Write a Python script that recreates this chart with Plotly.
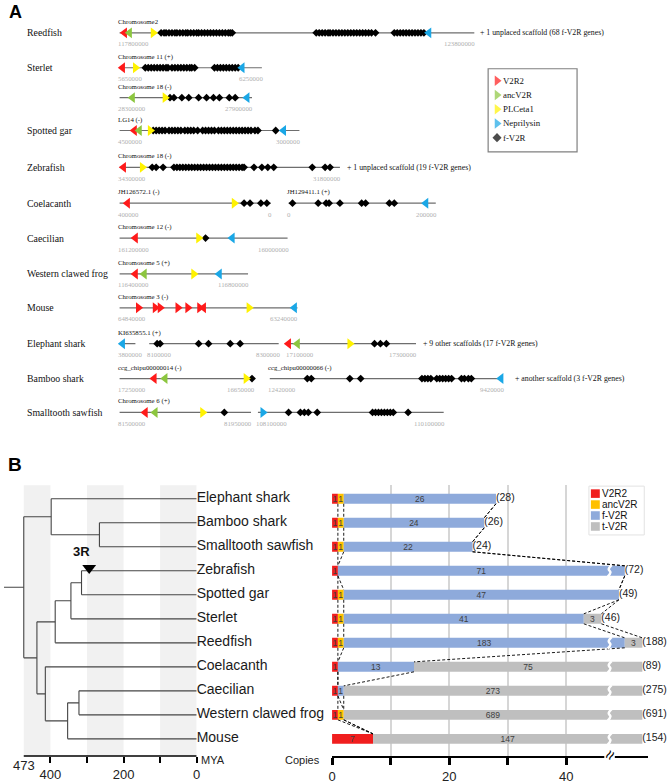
import plotly.graph_objects as go

W, H = 669, 784
SERIF = "Liberation Serif, Times New Roman, serif"
SANS = "Liberation Sans, Arial, sans-serif"

# ======================= PANEL A DATA =======================
a_species = ["Reedfish", "Sterlet", "Spotted gar", "Zebrafish", "Coelacanth", "Caecilian",
             "Western clawed frog", "Mouse", "Elephant shark", "Bamboo shark", "Smalltooth sawfish"]
a_species_track = [0, 1, 3, 4, 5, 6, 7, 8, 9, 10, 11]

# genomic segments (diagram units along each track)
seg_track = [0, 1, 2, 3, 4, 5, 5, 6, 7, 8, 9, 9, 9, 10, 10, 11, 11]
seg_start = [117, 117, 117, 117, 117, 117, 288, 117, 117, 117, 117, 147, 287, 117, 269, 117, 257]
seg_end = [476, 261, 251, 299, 340, 270, 437, 287, 247, 297, 133, 278, 417, 253, 505, 250, 445]
seg_title = ["Chromosome2", "Chromosome 11 (+)", "Chromosome 18 (-)", "LG14 (-)", "Chromosome 18 (-)",
             "JH126572.1 (-)", "JH129411.1 (+)", "Chromosome 12 (-)", "Chromosome 5 (+)",
             "Chromosome 3 (-)", "KI635855.1 (+)", "", "", "ccg_chipu00000014 (-)",
             "ccg_chipu00000066 (-)", "Chromosome 6 (+)", ""]
seg_left = ["117800000", "5650000", "28300000", "4500000", "34300000", "400000", "0", "161200000",
            "116400000", "64840000", "3800000", "8100000", "17100000", "17250000", "12420000",
            "81500000", "108100000"]
seg_right = ["123800000", "6250000", "27900000", "3000000", "31800000", "0", "200000", "160000000",
             "116800000", "63240000", "", "8300000", "17300000", "16650000", "9420000",
             "81950000", "110100000"]

note_track = [0, 4, 9, 10]
note_text = ["+ 1 unplaced scaffold (68 f-V2R genes)", "+ 1 unplaced scaffold (19 f-V2R genes)",
             "+ 9 other scaffolds (17 f-V2R genes)", "+ another scaffold (3 f-V2R genes)"]

# genes: (track, position, strand)
v2r2_loci = [(0, 122, "L"), (1, 120, "L"), (3, 132, "L"), (4, 121, "L"), (5, 125, "L"), (6, 133, "L"),
             (7, 133, "L"), (8, 136, "R"), (8, 153, "R"), (8, 158, "R"), (8, 176, "R"), (8, 186, "R"),
             (8, 198, "R"), (8, 202, "L"), (9, 288, "L"), (10, 152, "L"), (11, 143, "L")]
anc_loci = [(0, 127, "L"), (2, 130, "L"), (3, 137, "L"), (7, 142, "L"), (9, 297, "L"), (10, 163, "L"),
            (11, 153, "L")]
plc_loci = [(0, 151, "R"), (1, 133, "R"), (2, 163, "R"), (3, 148, "R"), (4, 140, "R"), (5, 233, "R"),
            (6, 197, "R"), (7, 192, "R"), (8, 248, "R"), (9, 350, "R"), (10, 245, "R"), (11, 201, "R")]
nep_loci = [(0, 430, "L"), (1, 241, "L"), (2, 246, "L"), (3, 283, "L"), (5, 427, "L"), (6, 231, "L"),
            (7, 218, "L"), (8, 294, "L"), (9, 120, "L"), (10, 503, "L"), (11, 262, "R")]
fv2r_loci = [
    (0, [159, 162, 164, 167, 170, 173, 175, 178, 181, 184, 186, 189, 192, 195, 197, 200, 203, 206, 209,
         212, 215, 218, 221, 224, 227, 229, 231, 316, 319, 322, 325, 328, 330, 333, 336, 339, 342, 345,
         348, 351, 354, 357, 360, 363, 366, 369, 372, 376, 395, 398, 401, 404, 407, 410, 413, 416, 419,
         422, 425]),
    (1, [143, 146, 149, 152, 155, 158, 161, 164, 166, 170, 173, 176, 179, 182, 185, 188, 190, 193, 213,
         216, 219, 222, 225, 228, 231, 234, 237]),
    (2, [168, 172, 180, 187, 197, 205, 212, 218, 228, 234]),
    (3, [151, 154, 157, 160, 163, 167, 170, 173, 176, 179, 183, 186, 189, 192, 196, 201, 204, 207, 210,
         213, 217, 220, 223, 226, 229, 232, 235, 238, 241, 244, 247, 250, 254, 257, 275]),
    (4, [150, 154, 161, 172, 175, 178, 181, 184, 187, 190, 193, 196, 199, 202, 205, 208, 211, 214, 217,
         220, 223, 226, 229, 232, 235, 238, 241, 243, 253, 261, 267, 273, 312, 325, 330]),
    (5, [243, 249, 260, 266, 292, 318, 326, 329, 340, 362, 366, 390, 395]),
    (6, [204]),
    (9, [155, 158, 197, 207, 229, 239, 375, 381, 387]),
    (10, [251, 307, 311, 350, 361, 423, 426, 429, 432, 438, 441, 444, 447, 450, 453, 463, 466, 470, 473]),
    (11, [223, 288, 300, 304, 308, 317, 373, 376, 379, 382, 385, 388, 391, 394, 409]),
]

gene_names = ["V2R2", "ancV2R", "PLCeta1", "Neprilysin", "f-V2R"]
gene_colors = ["#ff1a1a", "#8cc63f", "#fff200", "#1aa7e6", "#000000"]

# ======================= PANEL B DATA =======================
b_species = ["Elephant shark", "Bamboo shark", "Smalltooth sawfish", "Zebrafish", "Spotted gar", "Sterlet",
             "Reedfish", "Coelacanth", "Caecilian", "Western clawed frog", "Mouse"]
v2r2_copies = [1, 1, 1, 1, 1, 1, 1, 1, 1, 1, 7]
anc_copies = [1, 1, 1, 0, 1, 1, 1, 0, 0, 1, 0]
fv2r_copies = [26, 24, 22, 71, 47, 41, 183, 13, 1, 0, 0]
tv2r_copies = [0, 0, 0, 0, 0, 3, 3, 75, 273, 689, 147]
b_names = ["V2R2", "ancV2R", "f-V2R", "t-V2R"]
b_colors = ["#f01e1e", "#ffc000", "#8eaadb", "#bfbfbf"]

node_names = ["root", "chond", "elasmo", "osteich", "actino", "acip_neo", "neo", "sarco", "tetra", "amphib"]
node_ages = [473, 398, 266, 437, 387, 344, 315, 414, 353, 322]
node_kids = [("chond", "osteich"), ("Elephant shark", "elasmo"), ("Bamboo shark", "Smalltooth sawfish"),
             ("actino", "sarco"), ("acip_neo", "Reedfish"), ("neo", "Sterlet"), ("Zebrafish", "Spotted gar"),
             ("Coelacanth", "tetra"), ("amphib", "Mouse"), ("Caecilian", "Western clawed frog")]
wgd_label, wgd_age, wgd_branch = "3R", 294, "Zebrafish"
mya_ticks = [400, 300, 200, 100, 0]
mya_ticktext = ["400", "", "200", "", "0"]
copies_ticks = [0, 10, 20, 30, 40]
copies_ticktext = ["0", "", "20", "", "40"]

# ======================= LAYOUT CONSTANTS =======================
a_track_y = [33, 68, 98, 131, 168, 204, 239, 275, 309, 345, 380, 414]
note_x = [484, 349, 426, 519]


def px(x):
    return x / W


def py(y):
    return 1 - y / H


B_TOP, B_BOT = 487, 759
ROW0, ROWSTEP = 500.7, 24.1
y_rng = [(B_BOT - ROW0) / ROWSTEP, (B_TOP - ROW0) / ROWSTEP]
BAR_W = 0.415
F_CAP, T_CAP, BREAK_AT = 50, 53, 47.4
TREE_LEFT = 473 + 20 / (175 / 473)
LSH = -3  # small nudge for left-anchored text in panel A

fig = go.Figure()
ann = []
shapes = []

# ======================= PANEL A =======================
sx, sy = [], []
for t, x0, x1 in zip(seg_track, seg_start, seg_end):
    sx += [x0, x1, None]
    sy += [a_track_y[t], a_track_y[t], None]
fig.add_trace(go.Scatter(x=sx, y=sy, mode="lines", line=dict(color="#6e6e6e", width=1.2),
                         xaxis="x", yaxis="y", hoverinfo="skip"))

fx, fy = [], []
for t, plist in fv2r_loci:
    for p in plist:
        fx.append(p)
        fy.append(a_track_y[t])
fig.add_trace(go.Scatter(x=fx, y=fy, mode="markers", xaxis="x", yaxis="y", name="f-V2R",
                         marker=dict(symbol="diamond", size=6, color="black", line=dict(width=0))))

for loci, col, nm in zip([v2r2_loci, anc_loci, plc_loci, nep_loci], gene_colors[:4], gene_names[:4]):
    fig.add_trace(go.Scatter(
        x=[p for _, p, _ in loci], y=[a_track_y[t] for t, _, _ in loci], mode="markers",
        xaxis="x", yaxis="y", name=nm,
        marker=dict(symbol=["triangle-left" if s == "L" else "triangle-right" for _, _, s in loci],
                    size=9.5, color=col, line=dict(width=0))))

for sp, t in zip(a_species, a_species_track):
    ann.append(dict(x=26, y=a_track_y[t], xref="x", yref="y", text=sp, showarrow=False, borderpad=0,
                    xanchor="left", yanchor="middle", xshift=LSH - 1,
                    font=dict(family=SERIF, size=9.8, color="#111")))
for t, x0, x1, tt, lt, rt in zip(seg_track, seg_start, seg_end, seg_title, seg_left, seg_right):
    yv = a_track_y[t]
    if tt:
        ann.append(dict(x=x0, y=yv - 11, xref="x", yref="y", text=tt, showarrow=False, xanchor="left",
                        yanchor="middle", borderpad=0, xshift=LSH,
                        font=dict(family=SERIF, size=6.8, color="#111")))
    if lt:
        ann.append(dict(x=x0, y=yv + 11, xref="x", yref="y", text=lt, showarrow=False, xanchor="left",
                        yanchor="middle", borderpad=0, xshift=LSH,
                        font=dict(family=SERIF, size=6.8, color="#b0b0b0")))
    if rt:
        ann.append(dict(x=x1, y=yv + 11, xref="x", yref="y", text=rt, showarrow=False, xanchor="right",
                        yanchor="middle", borderpad=0, xshift=-LSH - 1,
                        font=dict(family=SERIF, size=6.8, color="#b0b0b0")))
for t, nx, txt in zip(note_track, note_x, note_text):
    ann.append(dict(x=nx, y=a_track_y[t], xref="x", yref="y", text=txt, showarrow=False, xanchor="left",
                    yanchor="middle", borderpad=0, xshift=LSH,
                    font=dict(family=SERIF, size=7.8, color="#111")))

# legend A
LA_X0, LA_X1, LA_Y0, LA_STEP = 490, 580, 69, 14.3
shapes.append(dict(type="rect", xref="x", yref="y", x0=LA_X0, x1=LA_X1, y0=LA_Y0,
                   y1=LA_Y0 + 12 + LA_STEP * 5, line=dict(color="#808080", width=1.2), fillcolor="white",
                   layer="below"))
leg_y = [LA_Y0 + 12 + LA_STEP * k for k in range(5)]
fig.add_trace(go.Scatter(x=[LA_X0 + 9] * 5, y=leg_y, mode="markers", xaxis="x", yaxis="y",
                         marker=dict(symbol=["triangle-right"] * 4 + ["diamond"], size=[9, 9, 9, 9, 7],
                                     color=gene_colors, line=dict(width=0)), hoverinfo="skip"))
for nm, yv in zip(gene_names, leg_y):
    ann.append(dict(x=LA_X0 + 17, y=yv, xref="x", yref="y", text=nm, showarrow=False, xanchor="left",
                    yanchor="middle", borderpad=0, xshift=LSH,
                    font=dict(family=SERIF, size=8.8, color="#111")))

# ======================= PANEL B: TREE =======================
age = dict(zip(node_names, node_ages))
kids = dict(zip(node_names, node_kids))
ypos = {s: i for i, s in enumerate(b_species)}
for s in b_species:
    age[s] = 0


def gety(n):
    if n not in ypos:
        c1, c2 = kids[n]
        ypos[n] = (gety(c1) + gety(c2)) / 2
    return ypos[n]


gety("root")
tx, ty = [], []
for n in node_names:
    c1, c2 = kids[n]
    tx += [age[n], age[n], None]
    ty += [ypos[c1], ypos[c2], None]
    for c in (c1, c2):
        tx += [age[n], age[c], None]
        ty += [ypos[c], ypos[c], None]
tx += [TREE_LEFT, age["root"]]
ty += [ypos["root"], ypos["root"]]

for a0, a1 in [(473, 400), (300, 200), (100, 0)]:
    shapes.append(dict(type="rect", xref="x2", yref="paper", x0=a0, x1=a1, y0=py(B_BOT), y1=py(B_TOP),
                       fillcolor="#f1f1f1", line=dict(width=0), layer="below"))
shapes.append(dict(type="line", xref="x2", yref="paper", x0=473, x1=0, y0=py(B_BOT), y1=py(B_BOT),
                   line=dict(color="black", width=1.5)))

fig.add_trace(go.Scatter(x=tx, y=ty, mode="lines", line=dict(color="#444444", width=1.1),
                         xaxis="x2", yaxis="y2", hoverinfo="skip", cliponaxis=False))
fig.add_trace(go.Scatter(x=[0] * len(b_species), y=list(range(len(b_species))), mode="text",
                         text=b_species, textposition="middle right", cliponaxis=False,
                         textfont=dict(family=SANS, size=14, color="#1a1a1a"), xaxis="x2", yaxis="y2"))
fig.add_trace(go.Scatter(x=[wgd_age], y=[ypos[wgd_branch] - 0.12], mode="markers", xaxis="x2", yaxis="y2",
                         marker=dict(symbol="triangle-down", size=12, color="black")))
ann.append(dict(x=wgd_age + 22, y=ypos[wgd_branch] - 0.8, xref="x2", yref="y2", text="<b>3R</b>",
                showarrow=False, font=dict(family=SANS, size=13, color="#111")))
ann.append(dict(x=473, y=py(768), xref="x2", yref="paper", text="473", showarrow=False,
                yanchor="middle", font=dict(family=SANS, size=13, color="#222")))
ann.append(dict(x=0, y=py(763), xref="x2", yref="paper", text="MYA", showarrow=False, xanchor="left",
                yanchor="middle", xshift=2, font=dict(family=SANS, size=11, color="#222")))

# ======================= PANEL B: BARS =======================
n = len(b_species)
counts = [v2r2_copies, anc_copies, fv2r_copies, tv2r_copies]
bounds = [[], [], [], []]
for i in range(n):
    b1 = v2r2_copies[i]
    b2 = b1 + anc_copies[i]
    b3 = min(b2 + fv2r_copies[i], F_CAP)
    b4 = min(b3 + tv2r_copies[i], T_CAP)
    for k, b in enumerate([b1, b2, b3, b4]):
        bounds[k].append(b)
starts = [[0] * n, bounds[0], bounds[1], bounds[2]]
rows = list(range(n))
for k in range(4):
    lens = [bounds[k][i] - starts[k][i] for i in range(n)]
    fig.add_trace(go.Bar(
        x=lens, y=rows, base=starts[k], orientation="h", width=BAR_W, name=b_names[k],
        marker=dict(color=b_colors[k], line=dict(width=0)),
        text=[str(c) if c > 0 else "" for c in counts[k]], textposition="inside",
        insidetextanchor="middle", textangle=0, constraintext="none",
        textfont=dict(family=SANS, size=8.5, color="#404040"),
        xaxis="x3", yaxis="y3", hoverinfo="skip"))

# dashed connectors between consecutive rows
cx, cy = [], []
h = BAR_W / 2
for i in range(n - 1):
    for k in range(4):
        x0, x1 = bounds[k][i], bounds[k][i + 1]
        if x0 == T_CAP and x1 == T_CAP:
            continue
        cx += [x0, x1, None]
        cy += [i + h, i + 1 - h, None]
fig.add_trace(go.Scatter(x=cx, y=cy, mode="lines", line=dict(color="black", width=0.9, dash="3px,2px"),
                         xaxis="x3", yaxis="y3", hoverinfo="skip"))

# breaks on truncated bars
bx, by = [], []
for i in range(n):
    tot = v2r2_copies[i] + anc_copies[i] + fv2r_copies[i] + tv2r_copies[i]
    if tot > bounds[3][i]:
        bx += [BREAK_AT + 0.35, BREAK_AT - 0.15, BREAK_AT + 0.15, BREAK_AT - 0.3, None]
        by += [i - h - 0.03, i - h / 3, i + h / 3, i + h + 0.03, None]
fig.add_trace(go.Scatter(x=bx, y=by, mode="lines", line=dict(color="white", width=2.5, shape="spline"),
                         xaxis="x3", yaxis="y3", hoverinfo="skip"))

tot_txt = ["(%d)" % (v2r2_copies[i] + anc_copies[i] + fv2r_copies[i] + tv2r_copies[i]) for i in range(n)]
fig.add_trace(go.Scatter(x=bounds[3], y=rows, mode="text", text=tot_txt, textposition="middle right",
                         cliponaxis=False, textfont=dict(family=SANS, size=10.5, color="#222"),
                         xaxis="x3", yaxis="y3"))

shapes.append(dict(type="line", xref="x3", yref="paper", x0=BREAK_AT - 0.9, x1=BREAK_AT + 0.9,
                   y0=py(B_BOT), y1=py(B_BOT), line=dict(color="white", width=4)))
ann.append(dict(x=BREAK_AT, y=py(B_BOT - 1), xref="x3", yref="paper", text="≈", textangle=-60,
                showarrow=False, yanchor="middle", font=dict(family=SANS, size=17, color="black")))
ann.append(dict(x=px(322), y=py(763), xref="paper", yref="paper", text="Copies", showarrow=False,
                xanchor="right", yanchor="middle", font=dict(family=SANS, size=11, color="#222")))

# legend B
LB_X0, LB_X1, LB_Y0, LB_STEP = 592, 648, 488, 11
shapes.append(dict(type="rect", xref="paper", yref="paper", x0=px(LB_X0), x1=px(LB_X1), y0=py(LB_Y0),
                   y1=py(LB_Y0 + 49), fillcolor="white", line=dict(color="#e2e2e2", width=1)))
for k in range(4):
    yc = LB_Y0 + 7.5 + LB_STEP * k
    shapes.append(dict(type="rect", xref="paper", yref="paper", x0=px(LB_X0 + 2), x1=px(LB_X0 + 11),
                       y0=py(yc - 4.3), y1=py(yc + 4.3), fillcolor=b_colors[k], line=dict(width=0)))
    ann.append(dict(x=px(LB_X0 + 12), y=py(yc), xref="paper", yref="paper", text=b_names[k],
                    showarrow=False, xanchor="left", yanchor="middle", borderpad=0,
                    font=dict(family=SANS, size=10, color="#111")))

# panel letters
ann.append(dict(x=px(3), y=py(12), xref="paper", yref="paper", text="<b>A</b>", showarrow=False,
                xanchor="left", yanchor="middle", font=dict(family=SANS, size=18, color="black")))
ann.append(dict(x=px(2), y=py(466), xref="paper", yref="paper", text="<b>B</b>", showarrow=False,
                xanchor="left", yanchor="middle", font=dict(family=SANS, size=19, color="black")))

fig.update_layout(
    width=W, height=H, margin=dict(l=0, r=0, t=0, b=0), plot_bgcolor="white", paper_bgcolor="white",
    showlegend=False, barmode="overlay", annotations=ann, shapes=shapes,
    xaxis=dict(domain=[0, 1], range=[0, W], visible=False, anchor="y"),
    yaxis=dict(domain=[py(460), 1], range=[460, 0], visible=False, anchor="x"),
    xaxis2=dict(domain=[0, px(195)], range=[TREE_LEFT, 0], anchor="y2", showgrid=False, zeroline=False,
                showline=False, tickmode="array", tickvals=mya_ticks, ticktext=mya_ticktext,
                ticks="outside", ticklen=6, tickwidth=1.5, tickcolor="black",
                tickfont=dict(family=SANS, size=13, color="#222")),
    yaxis2=dict(domain=[py(B_BOT), py(B_TOP)], range=y_rng, visible=False, anchor="x2"),
    xaxis3=dict(domain=[px(332), px(652)], range=[0, 54], anchor="y3", showgrid=True, gridcolor="#d6d6d6",
                gridwidth=1.5, zeroline=False, showline=True, linecolor="black", linewidth=2,
                tickmode="array", tickvals=copies_ticks, ticktext=copies_ticktext, ticks="outside",
                ticklen=7, tickwidth=3, tickcolor="black",
                tickfont=dict(family=SANS, size=13, color="#222")),
    yaxis3=dict(domain=[py(B_BOT), py(B_TOP)], range=y_rng, visible=False, anchor="x3"),
)

fig.write_html("out.html", config={"displayModeBar": False},
               post_script="document.body.style.margin='0px';")
